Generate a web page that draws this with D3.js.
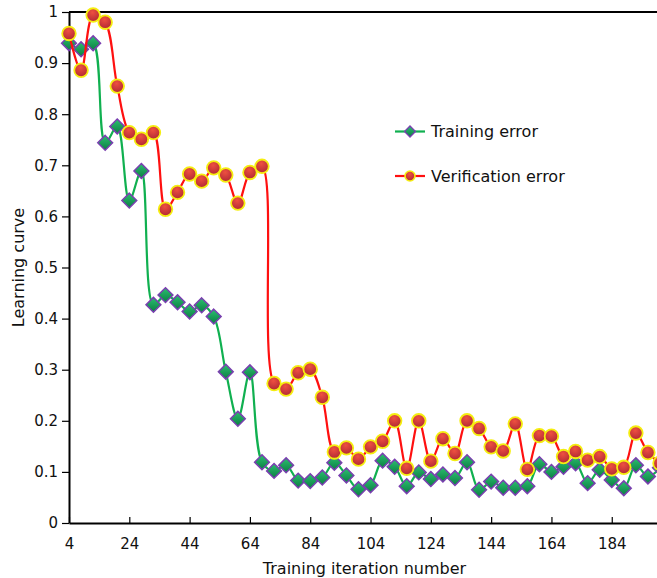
<!DOCTYPE html>
<html>
<head>
<meta charset="utf-8">
<script src="https://cdn.jsdelivr.net/npm/d3@7/dist/d3.min.js"></script>
<style>
  html, body { margin: 0; padding: 0; background: #fff; }
  svg { display: block; font-family: "DejaVu Sans", Verdana, sans-serif; }
</style>
</head>
<body>
<svg id="chart" width="657" height="578"></svg>
<script>
// Iteration numbers (every 4 iterations)
const iterations = [4,8,12,16,20,24,28,32,36,40,44,48,52,56,60,64,68,72,76,80,84,88,92,96,100,
  104,108,112,116,120,124,128,132,136,140,144,148,152,156,160,164,168,172,176,180,184,188,192,196,200];

const trainingError = [0.939,0.927,0.939,0.744,0.776,0.631,0.689,0.427,0.446,0.432,0.414,0.426,0.404,0.296,0.204,0.295,0.119,0.102,0.113,0.083,
  0.082,0.089,0.118,0.093,0.066,0.074,0.122,0.110,0.072,0.099,0.086,0.095,0.088,0.119,0.065,0.081,0.069,0.069,0.072,0.115,
  0.100,0.110,0.117,0.078,0.104,0.084,0.068,0.113,0.091,0.108];

const verificationError = [0.958,0.886,0.994,0.980,0.855,0.764,0.751,0.764,0.614,0.647,0.683,0.669,0.695,0.681,0.626,0.686,0.698,0.273,0.262,0.294,
  0.301,0.246,0.139,0.147,0.125,0.149,0.160,0.200,0.107,0.200,0.121,0.165,0.136,0.200,0.185,0.149,0.141,0.194,0.105,0.171,
  0.170,0.130,0.140,0.123,0.130,0.106,0.109,0.176,0.138,0.117];

const xTicks = [4,24,44,64,84,104,124,144,164,184];
const yTicks = [0,0.1,0.2,0.3,0.4,0.5,0.6,0.7,0.8,0.9,1];

const seriesNames = ["Training error", "Verification error"];
const xTitle = "Training iteration number";
const yTitle = "Learning curve";

const svg = d3.select("#chart");
const plotLeft = 69, plotRight = 660, plotTop = 12, plotBottom = 523;

const x = d3.scaleLinear().domain([4, 200]).range([plotLeft, plotRight]);
const y = d3.scaleLinear().domain([0, 1]).range([plotBottom, plotTop]);

// Gradients for markers
const defs = svg.append("defs");
const gGreen = defs.append("linearGradient").attr("id", "gGreen").attr("x1", 0).attr("y1", 0).attr("x2", 0).attr("y2", 1);
gGreen.append("stop").attr("offset", "0%").attr("stop-color", "#2cc070");
gGreen.append("stop").attr("offset", "100%").attr("stop-color", "#0b7d42");
const gRed = defs.append("radialGradient").attr("id", "gRed").attr("cx", "45%").attr("cy", "30%").attr("r", "75%");
gRed.append("stop").attr("offset", "0%").attr("stop-color", "#ee5040");
gRed.append("stop").attr("offset", "100%").attr("stop-color", "#ad2634");

const textColor = "#111";

// Y axis
const yAxis = d3.axisLeft(y).tickValues(yTicks).tickSizeInner(7).tickSizeOuter(0).tickPadding(4)
  .tickFormat(d => d3.format("~g")(d));
const gy = svg.append("g").attr("transform", `translate(${plotLeft},0)`).call(yAxis);
gy.select(".domain").attr("stroke", "#000").attr("stroke-width", 2);
gy.selectAll(".tick line").attr("stroke", "#000").attr("stroke-width", 1.2);
gy.selectAll(".tick text").attr("font-size", 15).attr("fill", textColor).attr("font-family", "DejaVu Sans, Verdana, sans-serif");

// X axis (ticks pointing into the plot)
const xAxis = d3.axisBottom(x).tickValues(xTicks).tickSizeInner(-6).tickSizeOuter(0).tickPadding(15);
const gx = svg.append("g").attr("transform", `translate(0,${plotBottom})`).call(xAxis);
gx.select(".domain").attr("stroke", "#000").attr("stroke-width", 2);
gx.selectAll(".tick line").attr("stroke", "#000").attr("stroke-width", 1.2);
gx.selectAll(".tick text").attr("font-size", 15).attr("fill", textColor).attr("font-family", "DejaVu Sans, Verdana, sans-serif");

// Top border
svg.append("line").attr("x1", plotLeft).attr("x2", 700).attr("y1", plotTop).attr("y2", plotTop)
  .attr("stroke", "#000").attr("stroke-width", 2);

// Axis titles
svg.append("text").attr("x", (plotLeft + plotRight) / 2).attr("y", 574).attr("text-anchor", "middle")
  .attr("font-size", 16).attr("fill", textColor).text(xTitle);
svg.append("text").attr("transform", `translate(24,${(plotTop + plotBottom) / 2}) rotate(-90)`).attr("text-anchor", "middle")
  .attr("font-size", 16).attr("fill", textColor).text(yTitle);

const line = d3.line().x((d, i) => x(iterations[i])).y(d => y(d)).curve(d3.curveCatmullRom.alpha(0.5));
const diamond = s => `M0,${-s}L${s},0L0,${s}L${-s},0Z`;

// Training series
svg.append("path").datum(trainingError).attr("d", line).attr("fill", "none")
  .attr("stroke", "#10b050").attr("stroke-width", 2.2);
svg.append("g").selectAll("path").data(trainingError).join("path")
  .attr("transform", (d, i) => `translate(${x(iterations[i])},${y(d)})`)
  .attr("d", diamond(7.4)).attr("fill", "url(#gGreen)").attr("stroke", "#7a3fb0").attr("stroke-width", 1.5);

// Verification series
svg.append("path").datum(verificationError).attr("d", line).attr("fill", "none")
  .attr("stroke", "#ff1010").attr("stroke-width", 2.2);
svg.append("g").selectAll("circle").data(verificationError).join("circle")
  .attr("cx", (d, i) => x(iterations[i])).attr("cy", d => y(d)).attr("r", 6.8)
  .attr("fill", "url(#gRed)").attr("stroke", "#f5ee10").attr("stroke-width", 1.8);

// Legend
const legend = svg.append("g");
const legY = [131.5, 176];
legend.selectAll("line").data(legY).join("line")
  .attr("x1", 395).attr("x2", 425).attr("y1", d => d).attr("y2", d => d)
  .attr("stroke", (d, i) => i === 0 ? "#10b050" : "#ff1010").attr("stroke-width", 2.2);
legend.append("path").attr("transform", `translate(410,${legY[0]})`).attr("d", diamond(5.5))
  .attr("fill", "url(#gGreen)").attr("stroke", "#7a3fb0").attr("stroke-width", 1.3);
legend.append("circle").attr("cx", 410).attr("cy", legY[1]).attr("r", 5)
  .attr("fill", "url(#gRed)").attr("stroke", "#f5ee10").attr("stroke-width", 1.6);
legend.selectAll("text").data(seriesNames).join("text")
  .attr("x", 431).attr("y", (d, i) => legY[i]).attr("dy", "0.35em")
  .attr("font-size", 16).attr("fill", textColor).text(d => d);
</script>
</body>
</html>
